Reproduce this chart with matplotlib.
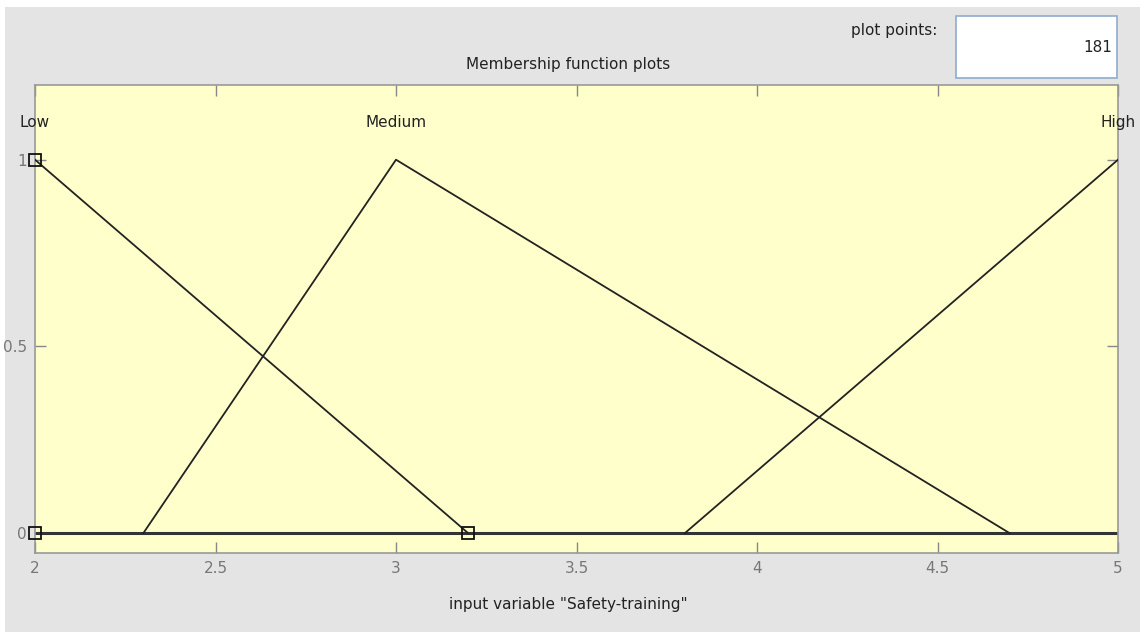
import matplotlib
matplotlib.use("Agg")
import matplotlib.pyplot as plt
from matplotlib.patches import Rectangle
from matplotlib import font_manager

# membership functions of input variable "Safety-training" (triangular)
mf_names = ["Low", "Medium", "High"]
mf_x = [[2.0, 2.0, 3.2], [2.3, 3.0, 4.7], [3.8, 5.0, 5.0]]
mf_y = [[1.0, 1.0, 0.0], [0.0, 1.0, 0.0], [0.0, 1.0, 1.0]]
mf_peak = [2.0, 3.0, 5.0]
sel_x = [2.0, 2.0, 3.2]          # vertices of the selected MF
sel_y = [0.0, 1.0, 0.0]
xticks = [2, 2.5, 3, 3.5, 4, 4.5, 5]
xticklabels = ["2", "2.5", "3", "3.5", "4", "4.5", "5"]
yticks = [0, 0.5, 1]
yticklabels = ["0", "0.5", "1"]
n_points = 181

names = {f.name for f in font_manager.fontManager.ttflist}
fam = "Liberation Sans Narrow" if "Liberation Sans Narrow" in names else "DejaVu Sans"
plt.rcParams["font.family"] = [fam, "DejaVu Sans"]

fig = plt.figure(figsize=(11.4, 6.32), dpi=100)
fig.patch.set_facecolor("white")
fig.add_artist(Rectangle((5 / 1140, 0), 1, 1 - 7 / 632, transform=fig.transFigure,
                         facecolor="#e4e4e4", edgecolor="none", zorder=0))

ax = fig.add_axes([35 / 1140, 1 - 553 / 632, 1083 / 1140, 468 / 632])
ax.set_facecolor("#ffffcc")
ax.set_xlim(2, 5)
ax.set_ylim(-0.053, 1.2)

# zero baseline spanning the universe
ax.plot([2, 5], [0, 0], color="#333333", lw=2.2, zorder=2)
for name, xs, ys, pk in zip(mf_names, mf_x, mf_y, mf_peak):
    ax.plot(xs, ys, color="#222222", lw=1.3, zorder=3)
    ax.text(pk, 1.1, name, ha="center", va="center", fontsize=11, color="#222222")
ax.plot(sel_x, sel_y, ls="none", marker="s", ms=9, mfc="none", mec="#111111",
        mew=1.3, zorder=4, clip_on=False)

ax.set_xticks(xticks)
ax.set_xticklabels(xticklabels)
ax.set_yticks(yticks)
ax.set_yticklabels(yticklabels)
ax.tick_params(direction="in", length=8, width=1, color="#888888",
               labelcolor="#777777", labelsize=11, top=True, right=True, pad=6)
for s in ax.spines.values():
    s.set_color("#999999")
    s.set_linewidth(1.2)

fig.text(568 / 1140, 1 - 65 / 632, "Membership function plots", ha="center", va="center",
         fontsize=11, color="#222222")
fig.text(568 / 1140, 1 - 605 / 632, 'input variable "Safety-training"', ha="center",
         va="center", fontsize=11, color="#222222")
fig.text(937 / 1140, 1 - 30 / 632, "plot points:", ha="right", va="center",
         fontsize=11, color="#222222")
fig.add_artist(Rectangle((956 / 1140, 1 - 78 / 632), 161 / 1140, 62 / 632,
                         transform=fig.transFigure, facecolor="white",
                         edgecolor="#8faccc", lw=1.2))
fig.text(1112 / 1140, 1 - 48 / 632, str(n_points), ha="right", va="center",
         fontsize=11, color="#222222")

fig.savefig("out.png", dpi=100)
